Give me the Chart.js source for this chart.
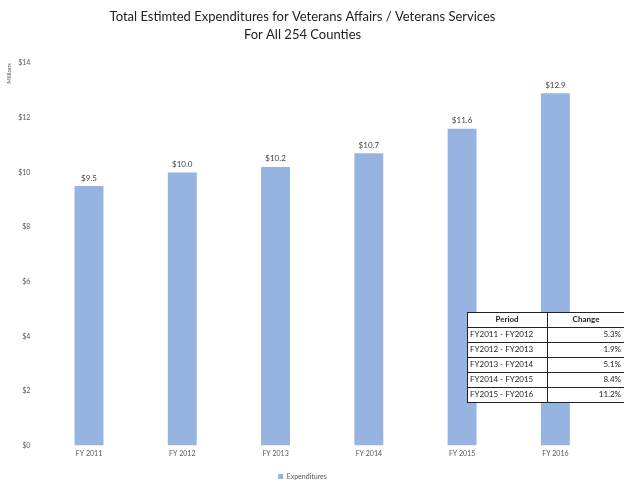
<!DOCTYPE html>
<html>
<head>
<meta charset="utf-8">
<script src="https://cdn.jsdelivr.net/npm/chart.js@4.4.1/dist/chart.umd.min.js"></script>
<style>
  html, body { margin: 0; padding: 0; background: #fff; }
  #wrap { width: 624px; height: 485px; position: relative; }
</style>
</head>
<body>
<div id="wrap"><canvas id="myChart" width="624" height="485"></canvas></div>
<script>
var years = ['FY 2011', 'FY 2012', 'FY 2013', 'FY 2014', 'FY 2015', 'FY 2016'];
var expenditures = [9.5, 10.0, 10.2, 10.7, 11.6, 12.9];
var yTicks = [0, 2, 4, 6, 8, 10, 12, 14];
var periods = ['FY2011 - FY2012', 'FY2012 - FY2013', 'FY2013 - FY2014', 'FY2014 - FY2015', 'FY2015 - FY2016'];
var changes = ['5.3%', '1.9%', '5.1%', '8.4%', '11.2%'];

var barColor = '#97b3e0';
var textColor = '#555';

// value labels above each bar
var barLabels = {
    id: 'barLabels',
    afterDatasetsDraw: function (chart) {
        var ctx = chart.ctx;
        var meta = chart.getDatasetMeta(0);
        ctx.save();
        ctx.font = '8px Lato';
        ctx.fillStyle = '#444';
        ctx.textAlign = 'center';
        ctx.textBaseline = 'bottom';
        meta.data.forEach(function (bar, i) {
            ctx.fillText('$' + expenditures[i].toFixed(1), bar.x, bar.y - 4);
        });
        ctx.restore();
    }
};

// small period / change table in the lower right
var changeTable = {
    id: 'changeTable',
    afterDraw: function (chart) {
        var ctx = chart.ctx;
        var x0 = 467, y0 = 312, rowH = 15, col1 = 80, col2 = 78;
        ctx.save();
        ctx.fillStyle = '#fff';
        ctx.fillRect(x0, y0, col1 + col2, rowH * (periods.length + 1));
        ctx.strokeStyle = '#222';
        ctx.lineWidth = 1;
        for (var r = 0; r <= periods.length + 1; r++) {
            ctx.beginPath();
            ctx.moveTo(x0, y0 + r * rowH + 0.5);
            ctx.lineTo(x0 + col1 + col2, y0 + r * rowH + 0.5);
            ctx.stroke();
        }
        [0, col1, col1 + col2].forEach(function (dx) {
            ctx.beginPath();
            ctx.moveTo(x0 + dx + 0.5, y0);
            ctx.lineTo(x0 + dx + 0.5, y0 + rowH * (periods.length + 1));
            ctx.stroke();
        });
        ctx.fillStyle = '#222';
        ctx.textBaseline = 'middle';
        ctx.font = 'bold 8px Lato';
        ctx.textAlign = 'center';
        ctx.fillText('Period', x0 + col1 / 2, y0 + rowH / 2);
        ctx.fillText('Change', x0 + col1 + col2 / 2, y0 + rowH / 2);
        ctx.font = '8px Lato';
        periods.forEach(function (p, i) {
            var cy = y0 + (i + 1.5) * rowH;
            ctx.textAlign = 'left';
            ctx.fillText(p, x0 + 3, cy);
            ctx.textAlign = 'right';
            ctx.fillText(changes[i], x0 + col1 + col2 - 4, cy);
        });
        ctx.restore();
    }
};

var chartdata = {
    labels: years,
    datasets: [
        {
            label: 'Expenditures',
            backgroundColor: barColor,
            borderWidth: 0,
            barPercentage: 0.62,
            categoryPercentage: 0.5,
            data: expenditures
        }
    ]
};

var barGraph = new Chart(document.getElementById('myChart'), {
    type: 'bar',
    data: chartdata,
    plugins: [barLabels, changeTable],
    options: {
        responsive: false,
        animation: false,
        layout: { padding: { left: 3, right: 22, top: 0, bottom: -5 } },
        plugins: {
            title: {
                display: true,
                text: ['Total Estimted Expenditures for Veterans Affairs / Veterans Services', 'For All 254 Counties'],
                color: '#222',
                font: { family: 'Lato', size: 13, weight: 'normal', lineHeight: 1.35 },
                padding: { top: 8, bottom: 20 }
            },
            legend: {
                position: 'bottom',
                labels: {
                    color: textColor,
                    font: { family: 'Lato', size: 7 },
                    boxWidth: 5,
                    boxHeight: 5,
                    padding: 2
                }
            },
            tooltip: { enabled: false }
        },
        scales: {
            x: {
                grid: { display: false },
                border: { display: false },
                ticks: { color: textColor, font: { family: 'Lato', size: 7 }, padding: -4 },
                afterFit: function (axis) { axis.height += 17; }
            },
            y: {
                min: 0,
                max: 14,
                afterBuildTicks: function (axis) {
                    axis.ticks = yTicks.map(function (v) { return { value: v }; });
                },
                grid: { display: false },
                border: { display: false },
                title: {
                    display: true,
                    text: 'Millions',
                    align: 'end',
                    color: textColor,
                    font: { family: 'Lato', size: 6 },
                    padding: 2
                },
                ticks: {
                    color: textColor,
                    font: { family: 'Lato', size: 7 },
                    padding: 4,
                    callback: function (v) { return '$' + v; }
                }
            }
        }
    }
});
</script>
</body>
</html>
